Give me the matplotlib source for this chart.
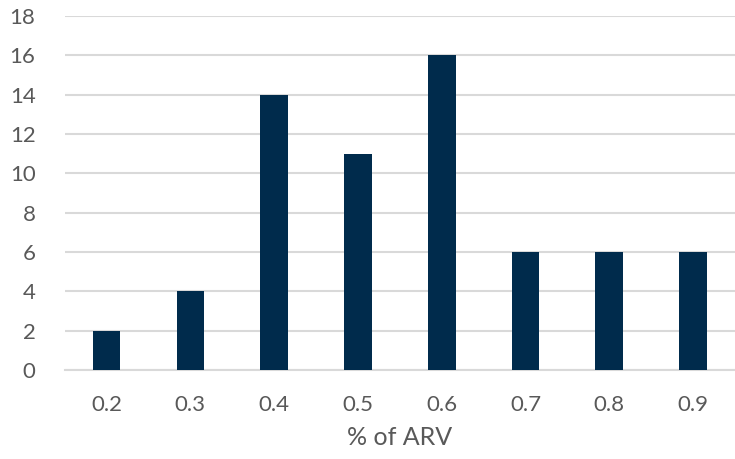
import matplotlib.pyplot as plt
import numpy as np

plt.rcParams['font.family'] = ['Lato', 'DejaVu Sans']

# share of ARV and number of occurrences
arv_share = ['0.2', '0.3', '0.4', '0.5', '0.6', '0.7', '0.8', '0.9']
counts = [2, 4, 14, 11, 16, 6, 6, 6]

bar_color = '#002b4c'
grid_color = '#d9d9d9'
text_color = '#595959'

fig = plt.figure(figsize=(7.35, 4.59), dpi=100)
ax = fig.add_axes([0.088, 0.194, 0.912, 0.771])

x = np.arange(len(arv_share))
ax.bar(x, counts, width=0.33, color=bar_color, zorder=3)

ax.set_xlim(-0.5, len(arv_share) - 0.5)
ax.set_ylim(0, 18)
ax.set_yticks(range(0, 19, 2))
ax.set_xticks(x)
ax.set_xticklabels(arv_share)

ax.yaxis.grid(True, color=grid_color, linewidth=1.5, zorder=0)
for side in ['top', 'right', 'left']:
    ax.spines[side].set_visible(False)
ax.spines['bottom'].set_color(grid_color)
ax.spines['bottom'].set_linewidth(1.5)

ax.tick_params(axis='both', length=0, labelsize=16, colors=text_color)
ax.tick_params(axis='x', pad=18)
ax.tick_params(axis='y', pad=21)
ax.set_xlabel('% of ARV', fontsize=18, color=text_color, labelpad=8)

fig.savefig('out.png', dpi=100)
